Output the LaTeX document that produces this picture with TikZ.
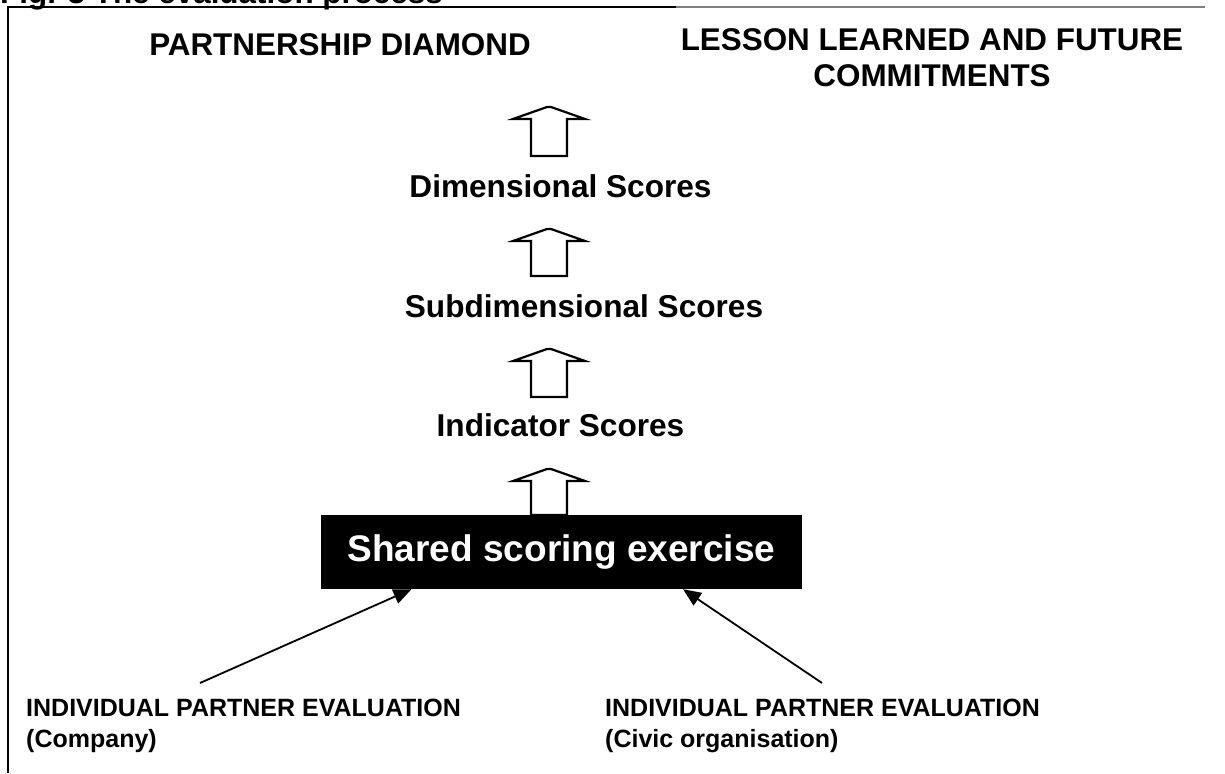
\documentclass[tikz,border=0pt]{standalone}
\usepackage{fontspec}
\setmainfont{Liberation Sans}
\usetikzlibrary{arrows.meta}
\definecolor{rulegray}{RGB}{128,128,128}

\begin{document}
\begin{tikzpicture}[
    x=1pt, y=-1pt,
    >={Triangle[length=18pt, width=15pt]},
    frame/.style={line width=2pt},
    head/.style={font=\bfseries\fontsize{31.4}{36}\selectfont, inner sep=0pt},
    score/.style={font=\bfseries\fontsize{31.6}{36}\selectfont, inner sep=0pt, anchor=base},
    who/.style={font=\bfseries\fontsize{25}{31}\selectfont, inner sep=0pt, align=left, anchor=north west},
    exercise/.style={fill=black, text=white, font=\bfseries\fontsize{37}{40}\selectfont,
      minimum width=481pt, minimum height=74pt, inner sep=0pt},
    upblock/.style={draw=black, fill=white, line width=2.2pt},
    feed/.style={->, line width=1.8pt},
  ]
  \useasboundingbox (0,0) rectangle (1225,773);

  % caption, runs off the top edge
  \node[head, anchor=base west] (caption) at (0,4) {Fig. 3 The evaluation process};

  % frame: rule on the left and along the top
  \draw[frame] (8,773) -- (8,7) -- (676,7);
  \draw[frame, rulegray] (676,7) -- (1205,7);

  % headings
  \node[head, anchor=base] (diamond) at (340,56) {PARTNERSHIP DIAMOND};
  \node[head, anchor=north, align=center] (lessons) at (932,28)
    {LESSON LEARNED AND FUTURE\\COMMITMENTS};

  % score levels
  \node[score] (dim)    at (560.5,197) {Dimensional Scores};
  \node[score] (subdim) at (584,317)   {Subdimensional Scores};
  \node[score] (ind)    at (560.5,436) {Indicator Scores};

  % hollow arrows pointing up, tip/bottom
  \foreach \t/\b in {107/156, 229/276, 349/397, 469/515}
    \draw[upblock] (531,\b) -- (531,\t+12) -- (513,\t+12) -- (547,\t) -- (551,\t)
      -- (585,\t+12) -- (567,\t+12) -- (567,\b) -- cycle;

  % shared exercise
  \node[exercise] (shared) at (561.5,552) {Shared scoring exercise};

  % individual evaluations
  \node[who] (company) at (26,699) {INDIVIDUAL PARTNER EVALUATION\\(Company)};
  \node[who] (civic)   at (605,699) {INDIVIDUAL PARTNER EVALUATION\\(Civic organisation)};

  \coordinate (companyfoot) at (200,683);
  \coordinate (civicfoot)   at (822,683);
  \draw[feed] (companyfoot) -- ([xshift=-150pt]shared.south);
  \draw[feed] (civicfoot)   -- ([xshift=121.5pt]shared.south);

\end{tikzpicture}
\end{document}
